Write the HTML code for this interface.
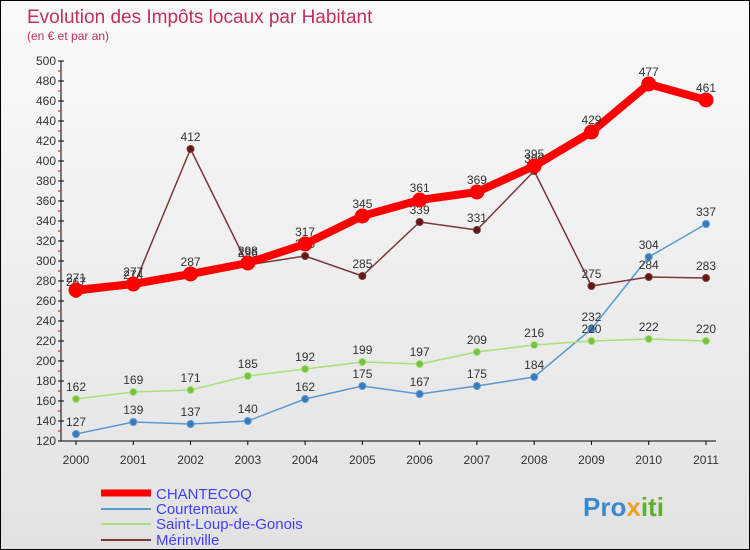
<!DOCTYPE html>
<html><head><meta charset="utf-8"><style>
body{margin:0}
#c{width:748px;height:548px;border:1px solid #000;background:linear-gradient(#fafafa,#e2e2e2);position:relative;overflow:hidden;font-family:"Liberation Sans","DejaVu Sans",sans-serif}
</style></head><body>
<div id="c">
<svg id="s" width="748" height="548" xmlns="http://www.w3.org/2000/svg">
<text x="26" y="22" font-size="19" fill="#c0305a">Evolution des Impôts locaux par Habitant</text>
<text x="26" y="39" font-size="12" fill="#c0305a">(en € et par an)</text>
<g id="axes"></g><g id="series"></g>
<g>
<line x1="100" y1="492" x2="150" y2="492" stroke="#f00" stroke-width="7"/>
<text x="155" y="498" font-size="15" fill="#4040ff">CHANTECOQ</text>
<line x1="100" y1="508" x2="150" y2="508" stroke="#5a9ad2" stroke-width="2"/>
<text x="155" y="513" font-size="15" fill="#4040ff">Courtemaux</text>
<line x1="100" y1="523" x2="150" y2="523" stroke="#a8e07a" stroke-width="2"/>
<text x="155" y="528" font-size="15" fill="#4040ff">Saint-Loup-de-Gonois</text>
<line x1="100" y1="539" x2="150" y2="539" stroke="#7a3838" stroke-width="2"/>
<text x="155" y="544" font-size="15" fill="#4040ff">Mérinville</text>
</g>
<text x="582" y="515" font-size="26" font-weight="bold" fill="#3a8ad0">Pro<tspan fill="#f0a020">x</tspan><tspan fill="#60b030">iti</tspan></text>
</svg>
</div>
<script>
const years=["2000","2001","2002","2003","2004","2005","2006","2007","2008","2009","2010","2011"];
const yTicks=[120,140,160,180,200,220,240,260,280,300,320,340,360,380,400,420,440,460,480,500];
const chantecoq=[271,277,287,298,317,345,361,369,395,429,477,461];
const courtemaux=[127,139,137,140,162,175,167,175,184,232,304,337];
const saintLoup=[162,169,171,185,192,199,197,209,216,220,222,220];
const merinville=[267,274,412,296,305,285,339,331,390,275,284,283];
const NS="http://www.w3.org/2000/svg";
const X=i=>75+i*(630/11), Y=v=>560-v;
function mk(t,a,p){const e=document.createElementNS(NS,t);for(const k in a)e.setAttribute(k,a[k]);p.appendChild(e);return e;}
const ax=document.getElementById('axes');
const yl=mk('line',{x1:60,y1:60,x2:60,y2:440,stroke:'#000'},ax);


const xl=mk('line',{x1:60,y1:440,x2:715,y2:440,stroke:'#000'},ax);


yTicks.forEach(v=>{
 mk('line',{x1:57,y1:Y(v),x2:63,y2:Y(v),stroke:'#000'},ax);
 if(v<500)mk('line',{x1:57,y1:Y(v)-10,x2:60,y2:Y(v)-10,stroke:'#f00'},ax);
 const t=mk('text',{x:55,y:Y(v)+4,'font-size':12,'text-anchor':'end',fill:'#333'},ax);t.textContent=v;
 
 
});
years.forEach((y,i)=>{
 mk('line',{x1:X(i),y1:440,x2:X(i),y2:444,stroke:'#000'},ax);
 const t=mk('text',{x:X(i),y:463,'font-size':12,'text-anchor':'middle',fill:'#333'},ax);t.textContent=y;
 
 
});
const sg=document.getElementById('series');
function series(d,name,col,w,r,dot){
 const g=mk('g',{},sg);
 
 
 mk('polyline',{points:d.map((v,i)=>X(i)+','+Y(v)).join(' '),fill:'none',stroke:col,'stroke-width':w,'stroke-linejoin':'round'},g);
 d.forEach((v,i)=>{
  const c=mk('circle',{cx:X(i),cy:Y(v),r:r,fill:dot,stroke:col,'stroke-width':1},g);
  
  
  const t=mk('text',{x:X(i),y:Y(v)-8,'font-size':12,'text-anchor':'middle',fill:'#333'},g);t.textContent=v;
  
  
 });
}
series(courtemaux,'courtemaux','#5a9ad2',1.5,3.5,'#3a7ab8');
series(saintLoup,'saint-loup','#a8e07a',1.5,3.5,'#78c040');
series(merinville,'merinville','#7a3838',1.5,3.5,'#601818');
series(chantecoq,'chantecoq','#f00',8,7,'#f00');
</script>
</body></html>
